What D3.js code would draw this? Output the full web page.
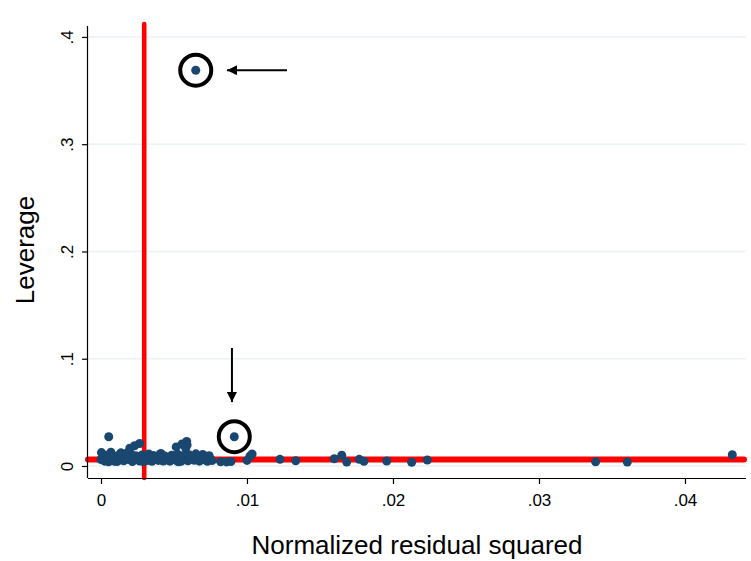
<!DOCTYPE html>
<html>
<head>
<meta charset="utf-8">
<script src="https://cdn.jsdelivr.net/npm/d3@7"></script>
<style>
  html, body { margin: 0; padding: 0; background: #ffffff; }
  svg { display: block; font-family: "Liberation Sans", Arial, sans-serif; }
</style>
</head>
<body>
<svg id="chart" width="751" height="561"></svg>
<script>
// ---- data ----
const resid2 = [
  // dense cluster near zero
  0.00000, 0.00012, 0.00025, 0.00031, 0.00044, 0.00058, 0.00063, 0.00071, 0.00086, 0.00093,
  0.00105, 0.00118, 0.00124, 0.00137, 0.00149, 0.00156, 0.00168, 0.00181, 0.00192, 0.00203,
  0.00215, 0.00222, 0.00238, 0.00246, 0.00259, 0.00267, 0.00281, 0.00294, 0.00302, 0.00315,
  0.00327, 0.00336, 0.00349, 0.00358, 0.00371, 0.00383, 0.00392, 0.00405, 0.00418, 0.00426,
  0.00437, 0.00449, 0.00461, 0.00472, 0.00484, 0.00493, 0.00506, 0.00517, 0.00525, 0.00538,
  0.00549, 0.00562, 0.00571, 0.00583, 0.00596, 0.00604, 0.00617, 0.00628, 0.00639, 0.00651,
  0.00662, 0.00674, 0.00685, 0.00697, 0.00708, 0.00716, 0.00729, 0.00741, 0.00752, 0.00761,
  0.00003, 0.00068, 0.00137, 0.00052, 0.00110, 0.00175, 0.00290, 0.00410, 0.00530, 0.00650,
  // raised points in the cluster
  0.00053, 0.00197, 0.00230, 0.00265, 0.00515, 0.00555, 0.00587, 0.00590, 0.00580,
  // right edge of cluster
  0.00820, 0.00860, 0.00890, 0.01000, 0.01020, 0.01035,
  // spread points
  0.01226, 0.01334, 0.01598, 0.01649, 0.01683, 0.01769, 0.01801, 0.01957, 0.02128, 0.02235,
  0.03388, 0.03605, 0.04324,
  // circled points
  0.00649, 0.00913
];
const leverage = [
  0.0060, 0.0085, 0.0045, 0.0100, 0.0070, 0.0052, 0.0090, 0.0110, 0.0062, 0.0043,
  0.0080, 0.0097, 0.0055, 0.0120, 0.0072, 0.0048, 0.0088, 0.0105, 0.0060, 0.0115,
  0.0042, 0.0078, 0.0095, 0.0058, 0.0083, 0.0046, 0.0102, 0.0068, 0.0090, 0.0050,
  0.0112, 0.0075, 0.0044, 0.0098, 0.0063, 0.0085, 0.0052, 0.0107, 0.0070, 0.0047,
  0.0093, 0.0059, 0.0080, 0.0045, 0.0100, 0.0066, 0.0087, 0.0051, 0.0110, 0.0073,
  0.0043, 0.0095, 0.0061, 0.0082, 0.0048, 0.0104, 0.0069, 0.0090, 0.0053, 0.0098,
  0.0064, 0.0045, 0.0086, 0.0108, 0.0057, 0.0077, 0.0044, 0.0095, 0.0062, 0.0050,
  0.0125, 0.0128, 0.0122, 0.0040, 0.0041, 0.0118, 0.0042, 0.0116, 0.0040, 0.0113,
  0.0273, 0.0165, 0.0189, 0.0210, 0.0178, 0.0205, 0.0228, 0.0195, 0.0165,
  0.0040, 0.0038, 0.0042, 0.0052, 0.0092, 0.0112,
  0.0062, 0.0049, 0.0068, 0.0100, 0.0037, 0.0062, 0.0044, 0.0047, 0.0034, 0.0056,
  0.0040, 0.0037, 0.0105,
  0.3690, 0.0273
];
const xTicks = [0, 0.01, 0.02, 0.03, 0.04];
const xTickLabels = ["0", ".01", ".02", ".03", ".04"];
const yTicks = [0, 0.1, 0.2, 0.3, 0.4];
const yTickLabels = ["0", ".1", ".2", ".3", ".4"];
const meanResid2 = 0.00296;   // vertical reference line
const meanLeverage = 0.0060;  // horizontal reference line
const circledResid2 = [0.00649, 0.00913];
const circledLeverage = [0.3690, 0.0273];
const arrowFromResid2 = [0.01274, 0.00897];
const arrowFromLeverage = [0.3690, 0.1100];
const arrowToResid2 = [0.00863, 0.00897];
const arrowToLeverage = [0.3690, 0.0596];
const xTitle = "Normalized residual squared";
const yTitle = "Leverage";

// ---- drawing ----
(function () {
const svg = d3.select("#chart");
const pLeft = 88, pRight = 746, pTop = 23, pBottom = 478;
const x = d3.scaleLinear().domain([-0.00089, 0.04418]).range([pLeft, pRight]);
const y = d3.scaleLinear().domain([-0.0112, 0.413]).range([pBottom, pTop]);

svg.append("defs").append("marker")
  .attr("id", "ah").attr("viewBox", "0 0 10 10")
  .attr("refX", 10).attr("refY", 5)
  .attr("markerWidth", 12).attr("markerHeight", 10)
  .attr("markerUnits", "userSpaceOnUse")
  .attr("orient", "auto")
  .append("path").attr("d", "M0,0 L10,5 L0,10 Z").attr("fill", "#000");

// gridlines
svg.append("g").selectAll("line").data(yTicks).join("line")
  .attr("x1", pLeft).attr("x2", pRight)
  .attr("y1", d => y(d)).attr("y2", d => y(d))
  .attr("stroke", "#eaf2f3").attr("stroke-width", 1.5);

// reference lines
svg.append("line")
  .attr("x1", pLeft).attr("x2", pRight - 2)
  .attr("y1", y(meanLeverage)).attr("y2", y(meanLeverage))
  .attr("stroke", "#ff0000").attr("stroke-width", 6).attr("stroke-linecap", "round");
svg.append("line")
  .attr("x1", x(meanResid2)).attr("x2", x(meanResid2))
  .attr("y1", pTop + 1).attr("y2", pBottom)
  .attr("stroke", "#ff0000").attr("stroke-width", 4.6).attr("stroke-linecap", "round");

// points
const pts = resid2.map((r, i) => ({ r: r, l: leverage[i] }));
svg.append("g").selectAll("circle").data(pts).join("circle")
  .attr("cx", d => x(d.r)).attr("cy", d => y(d.l)).attr("r", 4.5)
  .attr("fill", "#1a476f");

// circled outliers
svg.append("g").selectAll("circle").data(circledResid2).join("circle")
  .attr("cx", d => x(d)).attr("cy", (d, i) => y(circledLeverage[i]))
  .attr("r", 15.5).attr("fill", "none").attr("stroke", "#000").attr("stroke-width", 4);

// arrows
svg.append("g").selectAll("line").data(arrowFromResid2).join("line")
  .attr("x1", d => x(d)).attr("y1", (d, i) => y(arrowFromLeverage[i]))
  .attr("x2", (d, i) => x(arrowToResid2[i])).attr("y2", (d, i) => y(arrowToLeverage[i]))
  .attr("stroke", "#000").attr("stroke-width", 2).attr("marker-end", "url(#ah)");

// axes
const xAxis = d3.axisBottom(x).tickValues(xTicks)
  .tickFormat((d, i) => xTickLabels[i]).tickSize(6).tickSizeOuter(0);
const gx = svg.append("g").attr("transform", `translate(0,${pBottom})`).call(xAxis);
gx.select(".domain").attr("d", `M${pLeft},0.5H${pRight}`).attr("stroke", "#000").attr("stroke-width", 1.2);
gx.selectAll(".tick line").attr("stroke", "#000").attr("stroke-width", 1.2);
gx.selectAll(".tick text").attr("font-size", 17).attr("fill", "#000")
  .attr("font-family", "Liberation Sans, Arial, sans-serif").attr("dy", "1.1em");

const yAxis = d3.axisLeft(y).tickValues(yTicks)
  .tickFormat((d, i) => yTickLabels[i]).tickSize(6).tickSizeOuter(0);
const gy = svg.append("g").attr("transform", `translate(${pLeft},0)`).call(yAxis);
gy.select(".domain").attr("d", `M-0.5,26V${pBottom}`).attr("stroke", "#000").attr("stroke-width", 1.2);
gy.selectAll(".tick line").attr("stroke", "#000").attr("stroke-width", 1.2);
gy.selectAll(".tick text")
  .attr("font-size", 17).attr("fill", "#000")
  .attr("font-family", "Liberation Sans, Arial, sans-serif")
  .attr("x", null).attr("dy", null)
  .attr("text-anchor", "middle")
  .attr("transform", "translate(-15,0) rotate(-90)");

// titles
svg.append("text").attr("x", (pLeft + pRight) / 2).attr("y", 554)
  .attr("text-anchor", "middle").attr("font-size", 26).attr("fill", "#000")
  .text(xTitle);
svg.append("text").attr("transform", "translate(34,250) rotate(-90)")
  .attr("text-anchor", "middle").attr("font-size", 26).attr("fill", "#000")
  .text(yTitle);
})();
</script>
</body>
</html>
